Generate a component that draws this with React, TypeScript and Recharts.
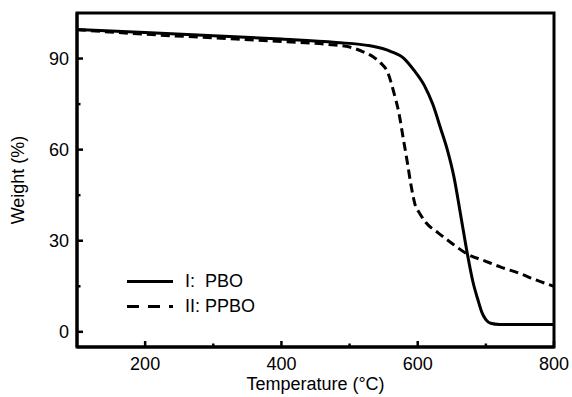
import { LineChart, Line, XAxis, YAxis, ReferenceArea } from "recharts";

// PBO (solid) curve
const pboTemp = [100, 200, 300, 400, 480, 530, 560, 580, 595, 610, 622, 634, 644, 653, 663, 673, 681, 688, 694, 700, 707, 720, 760, 800];
const pboWeight = [99.6, 98.6, 97.5, 96.4, 95.3, 94.2, 92.4, 90.0, 86.0, 81.0, 75.0, 66.7, 59.5, 51.2, 38.5, 25.5, 16.5, 10.8, 6.5, 4.0, 2.8, 2.4, 2.4, 2.4];

// PPBO (dashed) curve
const ppboTemp = [100, 200, 300, 400, 470, 500, 520, 535, 545, 556, 565, 572, 579, 585, 590, 596, 603, 612, 630, 648, 673, 700, 722, 750, 771, 800];
const ppboWeight = [99.5, 98.0, 96.8, 95.6, 94.6, 93.8, 92.2, 90.5, 88.7, 85.4, 78.8, 72.5, 63.4, 55.5, 48.5, 42.0, 39.0, 36.0, 32.6, 29.5, 25.6, 23.2, 21.3, 19.2, 17.3, 15.0];

const xTicks = [100, 200, 300, 400, 500, 600, 700, 800];
const xLabels = [200, 400, 600, 800];
const yTicks = [0, 15, 30, 45, 60, 75, 90];
const yLabels = [0, 30, 60, 90];

const pboData = pboTemp.map((t, i) => ({ t, w: pboWeight[i] }));
const ppboData = ppboTemp.map((t, i) => ({ t, w: ppboWeight[i] }));

const font = "Liberation Sans, Arial, sans-serif";

const XTick = ({ x, y, payload }: any) => {
  const v = payload.value;
  const major = xLabels.includes(v);
  if (v === 100) return null;
  return (
    <g>
      <line x1={x} x2={x} y1={y} y2={y - (major ? 6 : 3.5)} stroke="#000" strokeWidth={2.5} />
      {major && (
        <text x={x} y={y + 23} textAnchor="middle" fontSize={18} fontFamily={font} fill="#000">
          {v}
        </text>
      )}
    </g>
  );
};

const YTick = ({ x, y, payload }: any) => {
  const v = payload.value;
  const major = yLabels.includes(v);
  return (
    <g>
      <line x1={x} x2={x + (major ? 6 : 3.5)} y1={y} y2={y} stroke="#000" strokeWidth={2.5} />
      {major && (
        <text x={x - 8} y={y + 6.5} textAnchor="end" fontSize={18} fontFamily={font} fill="#000">
          {v}
        </text>
      )}
    </g>
  );
};

const LegendBox = () => (
  <div style={{ fontFamily: font, fontSize: 18, color: "#000", lineHeight: "25px" }}>
    <div style={{ display: "flex", alignItems: "center" }}>
      <svg width={58} height={25}>
        <line x1={0} x2={46} y1={12.5} y2={12.5} stroke="#000" strokeWidth={3} />
      </svg>
      <span style={{ whiteSpace: "pre" }}>I:  PBO</span>
    </div>
    <div style={{ display: "flex", alignItems: "center" }}>
      <svg width={58} height={25}>
        <line x1={0} x2={46} y1={12.5} y2={12.5} stroke="#000" strokeWidth={3} strokeDasharray="12 9" />
      </svg>
      <span style={{ whiteSpace: "pre" }}>II: PPBO</span>
    </div>
  </div>
);

const YTitle = ({ viewBox }: any) => {
  const cx = viewBox.x + 1;
  const cy = viewBox.y + viewBox.height / 2;
  return (
    <text
      x={cx}
      y={cy}
      transform={`rotate(-90, ${cx}, ${cy})`}
      textAnchor="middle"
      dominantBaseline="central"
      fontSize={18}
      fontFamily={font}
      fill="#000"
    >
      Weight (%)
    </text>
  );
};

export default function App() {
  return (
    <div style={{ position: "absolute", left: 0, top: 0, width: 572, height: 397, overflow: "hidden" }}>
      <LineChart width={572} height={397} margin={{ top: 13, right: 18, bottom: 0, left: 17 }}>
        <XAxis
          dataKey="t"
          type="number"
          domain={[100, 800]}
          ticks={xTicks}
          allowDataOverflow
          height={50}
          tickSize={0}
          tickMargin={0}
          tickLine={false}
          tick={<XTick />}
          axisLine={{ stroke: "#000", strokeWidth: 3 }}
          label={{ value: "Temperature (°C)", position: "insideBottom", offset: 7, fontSize: 18, fontFamily: font, fill: "#000" }}
        />
        <YAxis
          type="number"
          domain={[-5, 105]}
          ticks={yTicks}
          allowDataOverflow
          width={60}
          tickSize={0}
          tickMargin={0}
          tickLine={false}
          tick={<YTick />}
          axisLine={{ stroke: "#000", strokeWidth: 3 }}
          label={{ content: <YTitle /> }}
        />
        <ReferenceArea x1={100} x2={800} y1={-5} y2={105} fill="none" stroke="#000" strokeWidth={3} ifOverflow="visible" />
        <Line
          data={pboData}
          dataKey="w"
          type="monotone"
          stroke="#000"
          strokeWidth={3}
          dot={false}
          isAnimationActive={false}
        />
        <Line
          data={ppboData}
          dataKey="w"
          type="monotone"
          stroke="#000"
          strokeWidth={3}
          strokeDasharray="9 5"
          dot={false}
          isAnimationActive={false}
        />
      </LineChart>
      <div style={{ position: "absolute", left: 127, top: 269 }}>
        <LegendBox />
      </div>
    </div>
  );
}
